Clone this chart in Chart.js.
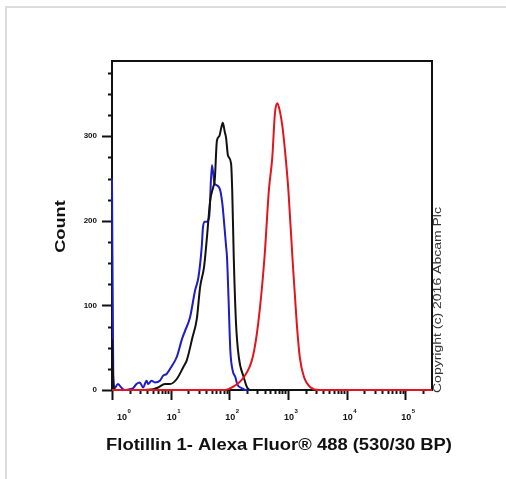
<!DOCTYPE html>
<html>
<head>
<meta charset="utf-8">
<script src="https://cdn.jsdelivr.net/npm/chart.js@4.4.0/dist/chart.umd.min.js"></script>
<style>
  html, body { margin: 0; padding: 0; background: #fff; }
  #wrap { position: relative; width: 506px; height: 479px; }
  #frame { position: absolute; left: 5px; top: 6px; right: 0; bottom: 0;
           border-left: 2px solid #dcdcdc; border-top: 2px solid #dcdcdc; pointer-events: none; }
</style>
</head>
<body>
<div id="wrap">
  <canvas id="chart" width="506" height="479"></canvas>
  <div id="frame"></div>
</div>
<script>
// histogram data (x = fluorescence, y = count)
const blueX = [1, 1.05, 1.1, 1.26, 1.44, 1.64, 2.0, 2.28, 2.61, 2.97, 3.39, 3.88, 4.13, 4.72, 5.38, 6.55, 7.46, 8.53, 10.4, 12.7, 15.4, 17.6, 21.4, 26.1, 29.7, 34.0, 35.4, 37.7, 41.4, 45.4, 50.5, 56.0, 61.5, 70.1, 76.7, 82.1, 87.8, 91.3, 97.2, 104, 114, 127, 136, 165, 188, 400];
const blueY = [250, 20, 2, 7, 3, 0, 1, 2, 7, 9, 3, 11, 7, 11, 9, 11, 17, 19, 28, 39, 59, 70, 86, 118, 133, 171, 191, 199, 199, 205, 266, 244, 242, 236, 218, 195, 171, 157, 106, 47, 23, 15, 7, 2, 0, 0];

const blackX = [1, 1.06, 1.12, 2.97, 5.03, 6.13, 7.98, 9.73, 12.7, 16.4, 18.8, 23.5, 27.9, 31.8, 37.0, 41.0, 47.2, 53.2, 56.4, 61.5, 67.3, 72.9, 77.4, 83.7, 87.7, 95.0, 107, 112, 119, 130, 145, 176, 201, 229, 400];
const blackY = [60, 5, 0, 0, 1, 3, 7, 7, 13, 27, 35, 62, 84, 122, 145, 176, 224, 240, 248, 295, 300, 310, 316, 305, 299, 277, 268, 236, 157, 79, 39, 15, 3, 0, 0];

const redX = [1, 85, 111, 176, 251, 311, 398, 472, 540, 600, 658, 725, 802, 912, 1016, 1190, 1410, 1588, 1880, 2450, 3360, 285000];
const redY = [0, 0, 3, 15, 39, 79, 157, 236, 275, 328, 339, 330, 312, 275, 236, 157, 79, 39, 15, 3, 0, 0];

// axes
const xMin = 1, xMax = 285000;
const xTickExps = [0, 1, 2, 3, 4, 5];
const yMax = 389, yMinorStep = 25;
const yTickLabels = [0, 100, 200, 300];

const xTitle = 'Flotillin 1- Alexa Fluor® 488 (530/30 BP)';
const yTitle = 'Count';
const copyright = 'Copyright (c) 2016 Abcam Plc';

const toPoints = (xs, ys) => xs.map((x, i) => ({ x: x, y: ys[i] }));

const FONT = '"Liberation Sans", Arial, sans-serif';

const flowAxes = {
    id: 'flowAxes',
    beforeDatasetsDraw(chart) {
        const ctx = chart.ctx;
        const { left, right, top, bottom } = chart.chartArea;
        const xs = chart.scales.x, ys = chart.scales.y;
        ctx.save();
        ctx.strokeStyle = '#111';
        ctx.fillStyle = '#111';

        // plot frame
        ctx.lineWidth = 2;
        ctx.strokeRect(left, top, right - left, bottom - top);

        // y ticks (major every 100, minor every 25)
        ys.ticks.forEach(t => {
            const py = Math.round(ys.getPixelForValue(t.value)) + 0.5;
            const len = yTickLabels.includes(t.value) ? 10 : 4;
            ctx.beginPath();
            ctx.moveTo(left - len, py);
            ctx.lineTo(left, py);
            ctx.stroke();
        });

        // x ticks, log decades with minor 2..9
        xTickExps.forEach(e => {
            for (let m = 1; m <= 9; m++) {
                const v = m * Math.pow(10, e);
                if (v > xMax) break;
                const px = Math.round(xs.getPixelForValue(v)) + 0.5;
                const len = m === 1 ? 10 : 4;
                ctx.beginPath();
                ctx.moveTo(px, bottom);
                ctx.lineTo(px, bottom + len);
                ctx.stroke();
            }
            // label 10^e
            const px = xs.getPixelForValue(Math.pow(10, e));
            const lx = Math.max(px + 1, left + 10);
            ctx.font = 'bold 9px ' + FONT;
            ctx.textAlign = 'center';
            ctx.textBaseline = 'middle';
            ctx.fillText('10', lx, 418);
            const w = ctx.measureText('10').width;
            ctx.font = 'bold 6px ' + FONT;
            ctx.textAlign = 'left';
            ctx.fillText(String(e), lx + w / 2 + 0.5, 411);
        });

        // x title
        ctx.save();
        ctx.translate((left + right) / 2 + 7, 446);
        ctx.scale(1.15, 1);
        ctx.font = 'bold 16px ' + FONT;
        ctx.textAlign = 'center';
        ctx.textBaseline = 'middle';
        ctx.fillText(xTitle, 0, 0);
        ctx.restore();

        // y title
        ctx.save();
        ctx.translate(61, (top + bottom) / 2 + 1);
        ctx.rotate(-Math.PI / 2);
        ctx.scale(1.3, 1);
        ctx.font = 'bold 14px ' + FONT;
        ctx.textAlign = 'center';
        ctx.textBaseline = 'middle';
        ctx.fillText(yTitle, 0, 0);
        ctx.restore();

        // copyright, rotated on the right
        ctx.save();
        ctx.translate(438, 393);
        ctx.rotate(-Math.PI / 2);
        ctx.scale(1.4, 1);
        ctx.font = '10px ' + FONT;
        ctx.fillStyle = '#333';
        ctx.textAlign = 'left';
        ctx.textBaseline = 'middle';
        ctx.fillText(copyright, 0, 0);
        ctx.restore();

        ctx.restore();
    }
};

const lineSet = (label, xs, ys, color) => ({
    label: label,
    data: toPoints(xs, ys),
    borderColor: color,
    borderWidth: 2,
    pointRadius: 0,
    fill: false,
    clip: 3,
    cubicInterpolationMode: 'monotone'
});

new Chart(document.getElementById('chart'), {
    type: 'line',
    data: {
        datasets: [
            lineSet('Flotillin 1', redX, redY, '#e2141c'),
            lineSet('Unlabelled', blackX, blackY, '#111111'),
            lineSet('Isotype', blueX, blueY, '#1c1cc8')
        ]
    },
    options: {
        responsive: false,
        animation: false,
        layout: { padding: { left: 0, top: 61, right: 74, bottom: 0 } },
        plugins: { legend: { display: false }, tooltip: { enabled: false } },
        scales: {
            x: {
                type: 'logarithmic',
                min: xMin,
                max: xMax,
                grid: { display: false, drawTicks: false },
                border: { display: false },
                ticks: { display: false },
                afterFit: s => { s.height = 89; }
            },
            y: {
                type: 'linear',
                min: 0,
                max: yMax,
                grid: { display: false, drawTicks: false },
                border: { display: false },
                ticks: {
                    stepSize: yMinorStep,
                    includeBounds: false,
                    autoSkip: false,
                    padding: 15,
                    color: '#111',
                    font: { family: FONT, size: 8, weight: 'bold' },
                    callback: v => yTickLabels.includes(v) ? String(v) : ''
                },
                afterFit: s => { s.width = 112; }
            }
        }
    },
    plugins: [flowAxes]
});
</script>
</body>
</html>
